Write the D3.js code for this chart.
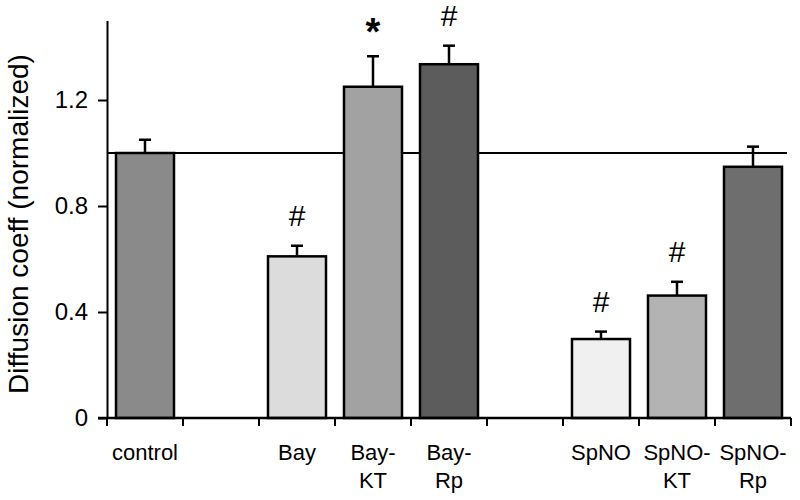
<!DOCTYPE html>
<html>
<head>
<meta charset="utf-8">
<script src="https://cdn.jsdelivr.net/npm/d3@7"></script>
<style>
  body { margin: 0; background: #fff; }
  svg { display: block; }
  text { font-family: "Liberation Sans", Arial, sans-serif; }
</style>
</head>
<body>
<svg id="chart" width="800" height="500"></svg>
<script>
// ---- data ----
const categories = ["control", "gap1", "Bay", "Bay-KT", "Bay-Rp", "gap2", "SpNO", "SpNO-KT", "SpNO-Rp"];
const labelLines = [["control"], [], ["Bay"], ["Bay-", "KT"], ["Bay-", "Rp"], [], ["SpNO"], ["SpNO-", "KT"], ["SpNO-", "Rp"]];
const barCats   = ["control", "Bay", "Bay-KT", "Bay-Rp", "SpNO", "SpNO-KT", "SpNO-Rp"];
const values    = [1.00, 0.61, 1.25, 1.335, 0.298, 0.462, 0.948];
const errors    = [0.05, 0.04, 0.115, 0.07, 0.028, 0.052, 0.076];
const marks     = ["", "#", "*", "#", "#", "#", ""];
const fills     = ["#8a8a8a", "#dcdcdc", "#a2a2a2", "#5c5c5c", "#f0f0f0", "#b3b3b3", "#6e6e6e"];
const yTicks    = [0, 0.4, 0.8, 1.2];
const refValue  = 1.0;
const yTitle    = "Diffusion coeff (normalized)";

// ---- layout ----
const svg = d3.select("#chart");
const left = 107, right = 791, bottom = 418;
const y = d3.scaleLinear().domain([0, 1.5]).range([bottom, bottom - 1.5 * 265]);
const x = d3.scaleBand().domain(categories).range([left, right]).paddingInner(0).paddingOuter(0);
const bw = x.bandwidth();
const barW = 58;

// reference line
svg.append("line")
  .attr("x1", left).attr("x2", right - 4)
  .attr("y1", y(refValue)).attr("y2", y(refValue))
  .attr("stroke", "#000").attr("stroke-width", 2);

// bars
const data = barCats.map((c, i) => ({ c, v: values[i], e: errors[i], m: marks[i], f: fills[i] }));
const g = svg.append("g");
data.forEach(d => {
  const cx = x(d.c) + bw / 2;
  // error bar
  g.append("line").attr("x1", cx).attr("x2", cx)
    .attr("y1", y(d.v)).attr("y2", y(d.v + d.e))
    .attr("stroke", "#000").attr("stroke-width", 2.5);
  g.append("line").attr("x1", cx - 6).attr("x2", cx + 6)
    .attr("y1", y(d.v + d.e)).attr("y2", y(d.v + d.e))
    .attr("stroke", "#000").attr("stroke-width", 2.5);
  g.append("rect")
    .attr("x", cx - barW / 2).attr("width", barW)
    .attr("y", y(d.v)).attr("height", y(0) - y(d.v))
    .attr("fill", d.f).attr("stroke", "#000").attr("stroke-width", 2.5);
  if (d.m === "#") {
    g.append("text").attr("x", cx).attr("y", y(d.v + d.e) - 20)
      .attr("text-anchor", "middle").attr("font-size", 30).text("#");
  } else if (d.m === "*") {
    g.append("text").attr("x", cx).attr("y", y(d.v + d.e) - 11)
      .attr("text-anchor", "middle").attr("font-size", 38).attr("font-weight", "bold").text("*");
  }
});

// y axis
const yAxis = svg.append("g").attr("transform", `translate(${left},0)`)
  .call(d3.axisLeft(y).tickValues(yTicks).tickSize(9).tickSizeOuter(0)
    .tickPadding(10).tickFormat(d => d === 0 ? "0" : d3.format(".1f")(d)));
yAxis.select(".domain").attr("stroke-width", 2);
yAxis.selectAll(".tick line").attr("stroke-width", 2);
yAxis.selectAll(".tick text").attr("font-size", 24).attr("fill", "#000")
  .style("font-family", "'Liberation Sans', Arial, sans-serif");

// x axis
svg.append("line").attr("x1", left - 9).attr("x2", right)
  .attr("y1", bottom).attr("y2", bottom).attr("stroke", "#000").attr("stroke-width", 2.5);
const edges = categories.map(c => x(c)).concat([x.range()[1]]);
svg.append("g").selectAll("line").data(edges).join("line")
  .attr("x1", d => d).attr("x2", d => d)
  .attr("y1", bottom).attr("y2", bottom + 8)
  .attr("stroke", "#000").attr("stroke-width", 2);

// x labels
categories.forEach((c, i) => {
  const lines = labelLines[i];
  if (!lines.length) return;
  const t = svg.append("text").attr("text-anchor", "middle").attr("font-size", 22)
    .attr("x", x(c) + bw / 2).attr("y", 460);
  lines.forEach((l, j) => {
    t.append("tspan").attr("x", x(c) + bw / 2).attr("dy", j === 0 ? 0 : 28).text(l);
  });
});

// y title
svg.append("text")
  .attr("transform", `translate(28,224) rotate(-90)`)
  .attr("text-anchor", "middle").attr("font-size", 28).text(yTitle);
</script>
</body>
</html>
